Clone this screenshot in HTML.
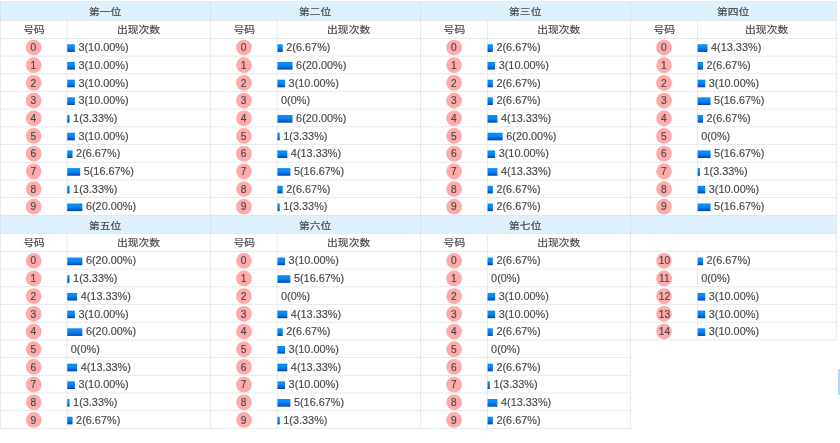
<!DOCTYPE html>
<html lang="zh"><head><meta charset="utf-8"><title>号码出现次数</title><style>html,body{margin:0;padding:0;background:#fff;}
body{width:840px;height:443px;overflow:hidden;}
svg{display:block;}
text{font-family:"Liberation Sans","Noto Sans CJK SC",sans-serif;font-size:10.6px;fill:#484848;}
.t{text-anchor:middle;}
.k{font-size:10.8px;stroke:#484848;stroke-width:0.2px;}
.n{font-size:10.2px;stroke:#484848;stroke-width:0.15px;}
.d{font-size:10.9px;stroke:#484848;stroke-width:0.15px;}
</style></head><body>
<svg width="840" height="443" viewBox="0 0 840 443">
<defs><linearGradient id="g" x1="0" y1="0" x2="0" y2="1"><stop offset="0" stop-color="#0a80ea"/><stop offset="0.22" stop-color="#0592fb"/><stop offset="0.5" stop-color="#0781ee"/><stop offset="0.8" stop-color="#0560cc"/><stop offset="1" stop-color="#003fa4"/></linearGradient></defs>
<g><rect x="0.05" y="1.60" width="836.65" height="18.95" fill="#dff1fc"/><rect x="0.05" y="215.30" width="836.65" height="18.20" fill="#dff1fc"/></g>
<g><rect x="0.45" y="1.20" width="835.85" height="0.8" fill="#dbe9f3"/><rect x="0.45" y="20.15" width="209.95" height="0.8" fill="#dfe6ec"/><rect x="0.45" y="38.00" width="209.95" height="0.8" fill="#dfe6ec"/><rect x="0.45" y="55.69" width="209.95" height="0.8" fill="#dfe6ec"/><rect x="0.45" y="73.38" width="209.95" height="0.8" fill="#dfe6ec"/><rect x="0.45" y="91.07" width="209.95" height="0.8" fill="#dfe6ec"/><rect x="0.45" y="108.76" width="209.95" height="0.8" fill="#dfe6ec"/><rect x="0.45" y="126.45" width="209.95" height="0.8" fill="#dfe6ec"/><rect x="0.45" y="144.14" width="209.95" height="0.8" fill="#dfe6ec"/><rect x="0.45" y="161.83" width="209.95" height="0.8" fill="#dfe6ec"/><rect x="0.45" y="179.52" width="209.95" height="0.8" fill="#dfe6ec"/><rect x="0.45" y="197.21" width="209.95" height="0.8" fill="#dfe6ec"/><rect x="0.45" y="214.90" width="209.95" height="0.8" fill="#dfe6ec"/><rect x="0.05" y="1.60" width="0.8" height="18.95" fill="#d2e4f0"/><rect x="0.05" y="20.55" width="0.8" height="194.75" fill="#dfe6ec"/><rect x="66.60" y="20.55" width="0.8" height="194.75" fill="#dfe6ec"/><rect x="210.40" y="20.15" width="210.10" height="0.8" fill="#dfe6ec"/><rect x="210.40" y="38.00" width="210.10" height="0.8" fill="#dfe6ec"/><rect x="210.40" y="55.69" width="210.10" height="0.8" fill="#dfe6ec"/><rect x="210.40" y="73.38" width="210.10" height="0.8" fill="#dfe6ec"/><rect x="210.40" y="91.07" width="210.10" height="0.8" fill="#dfe6ec"/><rect x="210.40" y="108.76" width="210.10" height="0.8" fill="#dfe6ec"/><rect x="210.40" y="126.45" width="210.10" height="0.8" fill="#dfe6ec"/><rect x="210.40" y="144.14" width="210.10" height="0.8" fill="#dfe6ec"/><rect x="210.40" y="161.83" width="210.10" height="0.8" fill="#dfe6ec"/><rect x="210.40" y="179.52" width="210.10" height="0.8" fill="#dfe6ec"/><rect x="210.40" y="197.21" width="210.10" height="0.8" fill="#dfe6ec"/><rect x="210.40" y="214.90" width="210.10" height="0.8" fill="#dfe6ec"/><rect x="210.00" y="1.60" width="0.8" height="18.95" fill="#d2e4f0"/><rect x="210.00" y="20.55" width="0.8" height="194.75" fill="#dfe6ec"/><rect x="276.80" y="20.55" width="0.8" height="194.75" fill="#dfe6ec"/><rect x="420.50" y="20.15" width="210.15" height="0.8" fill="#dfe6ec"/><rect x="420.50" y="38.00" width="210.15" height="0.8" fill="#dfe6ec"/><rect x="420.50" y="55.69" width="210.15" height="0.8" fill="#dfe6ec"/><rect x="420.50" y="73.38" width="210.15" height="0.8" fill="#dfe6ec"/><rect x="420.50" y="91.07" width="210.15" height="0.8" fill="#dfe6ec"/><rect x="420.50" y="108.76" width="210.15" height="0.8" fill="#dfe6ec"/><rect x="420.50" y="126.45" width="210.15" height="0.8" fill="#dfe6ec"/><rect x="420.50" y="144.14" width="210.15" height="0.8" fill="#dfe6ec"/><rect x="420.50" y="161.83" width="210.15" height="0.8" fill="#dfe6ec"/><rect x="420.50" y="179.52" width="210.15" height="0.8" fill="#dfe6ec"/><rect x="420.50" y="197.21" width="210.15" height="0.8" fill="#dfe6ec"/><rect x="420.50" y="214.90" width="210.15" height="0.8" fill="#dfe6ec"/><rect x="420.10" y="1.60" width="0.8" height="18.95" fill="#d2e4f0"/><rect x="420.10" y="20.55" width="0.8" height="194.75" fill="#dfe6ec"/><rect x="486.90" y="20.55" width="0.8" height="194.75" fill="#dfe6ec"/><rect x="630.65" y="20.15" width="205.65" height="0.8" fill="#dfe6ec"/><rect x="630.65" y="38.00" width="205.65" height="0.8" fill="#dfe6ec"/><rect x="630.65" y="55.69" width="205.65" height="0.8" fill="#dfe6ec"/><rect x="630.65" y="73.38" width="205.65" height="0.8" fill="#dfe6ec"/><rect x="630.65" y="91.07" width="205.65" height="0.8" fill="#dfe6ec"/><rect x="630.65" y="108.76" width="205.65" height="0.8" fill="#dfe6ec"/><rect x="630.65" y="126.45" width="205.65" height="0.8" fill="#dfe6ec"/><rect x="630.65" y="144.14" width="205.65" height="0.8" fill="#dfe6ec"/><rect x="630.65" y="161.83" width="205.65" height="0.8" fill="#dfe6ec"/><rect x="630.65" y="179.52" width="205.65" height="0.8" fill="#dfe6ec"/><rect x="630.65" y="197.21" width="205.65" height="0.8" fill="#dfe6ec"/><rect x="630.65" y="214.90" width="205.65" height="0.8" fill="#dfe6ec"/><rect x="630.25" y="1.60" width="0.8" height="18.95" fill="#d2e4f0"/><rect x="630.25" y="20.55" width="0.8" height="194.75" fill="#dfe6ec"/><rect x="697.00" y="20.55" width="0.8" height="194.75" fill="#dfe6ec"/><rect x="0.45" y="214.90" width="835.85" height="0.8" fill="#dbe9f3"/><rect x="0.45" y="233.10" width="209.95" height="0.8" fill="#dfe6ec"/><rect x="0.45" y="251.05" width="209.95" height="0.8" fill="#dfe6ec"/><rect x="0.45" y="268.74" width="209.95" height="0.8" fill="#dfe6ec"/><rect x="0.45" y="286.43" width="209.95" height="0.8" fill="#dfe6ec"/><rect x="0.45" y="304.12" width="209.95" height="0.8" fill="#dfe6ec"/><rect x="0.45" y="321.81" width="209.95" height="0.8" fill="#dfe6ec"/><rect x="0.45" y="339.50" width="209.95" height="0.8" fill="#dfe6ec"/><rect x="0.45" y="357.19" width="209.95" height="0.8" fill="#dfe6ec"/><rect x="0.45" y="374.88" width="209.95" height="0.8" fill="#dfe6ec"/><rect x="0.45" y="392.57" width="209.95" height="0.8" fill="#dfe6ec"/><rect x="0.45" y="410.26" width="209.95" height="0.8" fill="#dfe6ec"/><rect x="0.45" y="427.95" width="209.95" height="0.8" fill="#dfe6ec"/><rect x="0.05" y="215.30" width="0.8" height="18.20" fill="#d2e4f0"/><rect x="0.05" y="233.50" width="0.8" height="194.85" fill="#dfe6ec"/><rect x="66.60" y="233.50" width="0.8" height="194.85" fill="#dfe6ec"/><rect x="210.40" y="233.10" width="210.10" height="0.8" fill="#dfe6ec"/><rect x="210.40" y="251.05" width="210.10" height="0.8" fill="#dfe6ec"/><rect x="210.40" y="268.74" width="210.10" height="0.8" fill="#dfe6ec"/><rect x="210.40" y="286.43" width="210.10" height="0.8" fill="#dfe6ec"/><rect x="210.40" y="304.12" width="210.10" height="0.8" fill="#dfe6ec"/><rect x="210.40" y="321.81" width="210.10" height="0.8" fill="#dfe6ec"/><rect x="210.40" y="339.50" width="210.10" height="0.8" fill="#dfe6ec"/><rect x="210.40" y="357.19" width="210.10" height="0.8" fill="#dfe6ec"/><rect x="210.40" y="374.88" width="210.10" height="0.8" fill="#dfe6ec"/><rect x="210.40" y="392.57" width="210.10" height="0.8" fill="#dfe6ec"/><rect x="210.40" y="410.26" width="210.10" height="0.8" fill="#dfe6ec"/><rect x="210.40" y="427.95" width="210.10" height="0.8" fill="#dfe6ec"/><rect x="210.00" y="215.30" width="0.8" height="18.20" fill="#d2e4f0"/><rect x="210.00" y="233.50" width="0.8" height="194.85" fill="#dfe6ec"/><rect x="276.80" y="233.50" width="0.8" height="194.85" fill="#dfe6ec"/><rect x="420.50" y="233.10" width="210.15" height="0.8" fill="#dfe6ec"/><rect x="420.50" y="251.05" width="210.15" height="0.8" fill="#dfe6ec"/><rect x="420.50" y="268.74" width="210.15" height="0.8" fill="#dfe6ec"/><rect x="420.50" y="286.43" width="210.15" height="0.8" fill="#dfe6ec"/><rect x="420.50" y="304.12" width="210.15" height="0.8" fill="#dfe6ec"/><rect x="420.50" y="321.81" width="210.15" height="0.8" fill="#dfe6ec"/><rect x="420.50" y="339.50" width="210.15" height="0.8" fill="#dfe6ec"/><rect x="420.50" y="357.19" width="210.15" height="0.8" fill="#dfe6ec"/><rect x="420.50" y="374.88" width="210.15" height="0.8" fill="#dfe6ec"/><rect x="420.50" y="392.57" width="210.15" height="0.8" fill="#dfe6ec"/><rect x="420.50" y="410.26" width="210.15" height="0.8" fill="#dfe6ec"/><rect x="420.50" y="427.95" width="210.15" height="0.8" fill="#dfe6ec"/><rect x="420.10" y="215.30" width="0.8" height="18.20" fill="#d2e4f0"/><rect x="420.10" y="233.50" width="0.8" height="194.85" fill="#dfe6ec"/><rect x="486.90" y="233.50" width="0.8" height="194.85" fill="#dfe6ec"/><rect x="630.65" y="233.10" width="205.65" height="0.8" fill="#dfe6ec"/><rect x="630.65" y="251.05" width="205.65" height="0.8" fill="#dfe6ec"/><rect x="630.65" y="268.74" width="205.65" height="0.8" fill="#dfe6ec"/><rect x="630.65" y="286.43" width="205.65" height="0.8" fill="#dfe6ec"/><rect x="630.65" y="304.12" width="205.65" height="0.8" fill="#dfe6ec"/><rect x="630.65" y="321.81" width="205.65" height="0.8" fill="#dfe6ec"/><rect x="630.65" y="339.50" width="205.65" height="0.8" fill="#dfe6ec"/><rect x="630.25" y="215.30" width="0.8" height="18.20" fill="#d2e4f0"/><rect x="630.25" y="233.50" width="0.8" height="106.40" fill="#dfe6ec"/><rect x="697.00" y="251.45" width="0.8" height="88.45" fill="#dfe6ec"/><rect x="835.90" y="1.60" width="0.8" height="338.30" fill="#dfe6ec"/><rect x="630.25" y="339.90" width="0.8" height="88.45" fill="#dfe6ec"/></g>
<rect x="837.9" y="369" width="2.1" height="26" fill="#b9d5f8"/>
<g>
<circle cx="33.70" cy="47.50" r="7.85" fill="#ffabab"/>
<text class="t n" x="33.40" y="51.20">0</text>
<rect x="67.25" y="44.30" width="7.60" height="7.6" fill="url(#g)"/>
<circle cx="33.70" cy="65.19" r="7.85" fill="#ffabab"/>
<text class="t n" x="33.40" y="68.89">1</text>
<rect x="67.25" y="61.99" width="7.60" height="7.6" fill="url(#g)"/>
<circle cx="33.70" cy="82.88" r="7.85" fill="#ffabab"/>
<text class="t n" x="33.40" y="86.58">2</text>
<rect x="67.25" y="79.68" width="7.60" height="7.6" fill="url(#g)"/>
<circle cx="33.70" cy="100.57" r="7.85" fill="#ffabab"/>
<text class="t n" x="33.40" y="104.27">3</text>
<rect x="67.25" y="97.37" width="7.60" height="7.6" fill="url(#g)"/>
<circle cx="33.70" cy="118.26" r="7.85" fill="#ffabab"/>
<text class="t n" x="33.40" y="121.96">4</text>
<rect x="67.25" y="115.06" width="2.30" height="7.6" fill="url(#g)"/>
<circle cx="33.70" cy="135.95" r="7.85" fill="#ffabab"/>
<text class="t n" x="33.40" y="139.65">5</text>
<rect x="67.25" y="132.75" width="7.60" height="7.6" fill="url(#g)"/>
<circle cx="33.70" cy="153.64" r="7.85" fill="#ffabab"/>
<text class="t n" x="33.40" y="157.34">6</text>
<rect x="67.25" y="150.44" width="5.30" height="7.6" fill="url(#g)"/>
<circle cx="33.70" cy="171.33" r="7.85" fill="#ffabab"/>
<text class="t n" x="33.40" y="175.03">7</text>
<rect x="67.25" y="168.13" width="12.90" height="7.6" fill="url(#g)"/>
<circle cx="33.70" cy="189.02" r="7.85" fill="#ffabab"/>
<text class="t n" x="33.40" y="192.72">8</text>
<rect x="67.25" y="185.82" width="2.30" height="7.6" fill="url(#g)"/>
<circle cx="33.70" cy="206.71" r="7.85" fill="#ffabab"/>
<text class="t n" x="33.40" y="210.41">9</text>
<rect x="67.25" y="203.51" width="15.10" height="7.6" fill="url(#g)"/>
<circle cx="243.95" cy="47.50" r="7.85" fill="#ffabab"/>
<text class="t n" x="243.65" y="51.20">0</text>
<rect x="277.45" y="44.30" width="5.30" height="7.6" fill="url(#g)"/>
<circle cx="243.95" cy="65.19" r="7.85" fill="#ffabab"/>
<text class="t n" x="243.65" y="68.89">1</text>
<rect x="277.45" y="61.99" width="15.10" height="7.6" fill="url(#g)"/>
<circle cx="243.95" cy="82.88" r="7.85" fill="#ffabab"/>
<text class="t n" x="243.65" y="86.58">2</text>
<rect x="277.45" y="79.68" width="7.60" height="7.6" fill="url(#g)"/>
<circle cx="243.95" cy="100.57" r="7.85" fill="#ffabab"/>
<text class="t n" x="243.65" y="104.27">3</text>
<circle cx="243.95" cy="118.26" r="7.85" fill="#ffabab"/>
<text class="t n" x="243.65" y="121.96">4</text>
<rect x="277.45" y="115.06" width="15.10" height="7.6" fill="url(#g)"/>
<circle cx="243.95" cy="135.95" r="7.85" fill="#ffabab"/>
<text class="t n" x="243.65" y="139.65">5</text>
<rect x="277.45" y="132.75" width="2.30" height="7.6" fill="url(#g)"/>
<circle cx="243.95" cy="153.64" r="7.85" fill="#ffabab"/>
<text class="t n" x="243.65" y="157.34">6</text>
<rect x="277.45" y="150.44" width="9.85" height="7.6" fill="url(#g)"/>
<circle cx="243.95" cy="171.33" r="7.85" fill="#ffabab"/>
<text class="t n" x="243.65" y="175.03">7</text>
<rect x="277.45" y="168.13" width="12.90" height="7.6" fill="url(#g)"/>
<circle cx="243.95" cy="189.02" r="7.85" fill="#ffabab"/>
<text class="t n" x="243.65" y="192.72">8</text>
<rect x="277.45" y="185.82" width="5.30" height="7.6" fill="url(#g)"/>
<circle cx="243.95" cy="206.71" r="7.85" fill="#ffabab"/>
<text class="t n" x="243.65" y="210.41">9</text>
<rect x="277.45" y="203.51" width="2.30" height="7.6" fill="url(#g)"/>
<circle cx="454.10" cy="47.50" r="7.85" fill="#ffabab"/>
<text class="t n" x="453.80" y="51.20">0</text>
<rect x="487.55" y="44.30" width="5.30" height="7.6" fill="url(#g)"/>
<circle cx="454.10" cy="65.19" r="7.85" fill="#ffabab"/>
<text class="t n" x="453.80" y="68.89">1</text>
<rect x="487.55" y="61.99" width="7.60" height="7.6" fill="url(#g)"/>
<circle cx="454.10" cy="82.88" r="7.85" fill="#ffabab"/>
<text class="t n" x="453.80" y="86.58">2</text>
<rect x="487.55" y="79.68" width="5.30" height="7.6" fill="url(#g)"/>
<circle cx="454.10" cy="100.57" r="7.85" fill="#ffabab"/>
<text class="t n" x="453.80" y="104.27">3</text>
<rect x="487.55" y="97.37" width="5.30" height="7.6" fill="url(#g)"/>
<circle cx="454.10" cy="118.26" r="7.85" fill="#ffabab"/>
<text class="t n" x="453.80" y="121.96">4</text>
<rect x="487.55" y="115.06" width="9.85" height="7.6" fill="url(#g)"/>
<circle cx="454.10" cy="135.95" r="7.85" fill="#ffabab"/>
<text class="t n" x="453.80" y="139.65">5</text>
<rect x="487.55" y="132.75" width="15.10" height="7.6" fill="url(#g)"/>
<circle cx="454.10" cy="153.64" r="7.85" fill="#ffabab"/>
<text class="t n" x="453.80" y="157.34">6</text>
<rect x="487.55" y="150.44" width="7.60" height="7.6" fill="url(#g)"/>
<circle cx="454.10" cy="171.33" r="7.85" fill="#ffabab"/>
<text class="t n" x="453.80" y="175.03">7</text>
<rect x="487.55" y="168.13" width="9.85" height="7.6" fill="url(#g)"/>
<circle cx="454.10" cy="189.02" r="7.85" fill="#ffabab"/>
<text class="t n" x="453.80" y="192.72">8</text>
<rect x="487.55" y="185.82" width="5.30" height="7.6" fill="url(#g)"/>
<circle cx="454.10" cy="206.71" r="7.85" fill="#ffabab"/>
<text class="t n" x="453.80" y="210.41">9</text>
<rect x="487.55" y="203.51" width="5.30" height="7.6" fill="url(#g)"/>
<circle cx="664.05" cy="47.50" r="7.85" fill="#ffabab"/>
<text class="t n" x="663.75" y="51.20">0</text>
<rect x="697.65" y="44.30" width="9.85" height="7.6" fill="url(#g)"/>
<circle cx="664.05" cy="65.19" r="7.85" fill="#ffabab"/>
<text class="t n" x="663.75" y="68.89">1</text>
<rect x="697.65" y="61.99" width="5.30" height="7.6" fill="url(#g)"/>
<circle cx="664.05" cy="82.88" r="7.85" fill="#ffabab"/>
<text class="t n" x="663.75" y="86.58">2</text>
<rect x="697.65" y="79.68" width="7.60" height="7.6" fill="url(#g)"/>
<circle cx="664.05" cy="100.57" r="7.85" fill="#ffabab"/>
<text class="t n" x="663.75" y="104.27">3</text>
<rect x="697.65" y="97.37" width="12.90" height="7.6" fill="url(#g)"/>
<circle cx="664.05" cy="118.26" r="7.85" fill="#ffabab"/>
<text class="t n" x="663.75" y="121.96">4</text>
<rect x="697.65" y="115.06" width="5.30" height="7.6" fill="url(#g)"/>
<circle cx="664.05" cy="135.95" r="7.85" fill="#ffabab"/>
<text class="t n" x="663.75" y="139.65">5</text>
<circle cx="664.05" cy="153.64" r="7.85" fill="#ffabab"/>
<text class="t n" x="663.75" y="157.34">6</text>
<rect x="697.65" y="150.44" width="12.90" height="7.6" fill="url(#g)"/>
<circle cx="664.05" cy="171.33" r="7.85" fill="#ffabab"/>
<text class="t n" x="663.75" y="175.03">7</text>
<rect x="697.65" y="168.13" width="2.30" height="7.6" fill="url(#g)"/>
<circle cx="664.05" cy="189.02" r="7.85" fill="#ffabab"/>
<text class="t n" x="663.75" y="192.72">8</text>
<rect x="697.65" y="185.82" width="7.60" height="7.6" fill="url(#g)"/>
<circle cx="664.05" cy="206.71" r="7.85" fill="#ffabab"/>
<text class="t n" x="663.75" y="210.41">9</text>
<rect x="697.65" y="203.51" width="12.90" height="7.6" fill="url(#g)"/>
<circle cx="33.70" cy="260.75" r="7.85" fill="#ffabab"/>
<text class="t n" x="33.40" y="264.45">0</text>
<rect x="67.25" y="257.55" width="15.10" height="7.6" fill="url(#g)"/>
<circle cx="33.70" cy="278.44" r="7.85" fill="#ffabab"/>
<text class="t n" x="33.40" y="282.14">1</text>
<rect x="67.25" y="275.24" width="2.30" height="7.6" fill="url(#g)"/>
<circle cx="33.70" cy="296.13" r="7.85" fill="#ffabab"/>
<text class="t n" x="33.40" y="299.83">2</text>
<rect x="67.25" y="292.93" width="9.85" height="7.6" fill="url(#g)"/>
<circle cx="33.70" cy="313.82" r="7.85" fill="#ffabab"/>
<text class="t n" x="33.40" y="317.52">3</text>
<rect x="67.25" y="310.62" width="7.60" height="7.6" fill="url(#g)"/>
<circle cx="33.70" cy="331.51" r="7.85" fill="#ffabab"/>
<text class="t n" x="33.40" y="335.21">4</text>
<rect x="67.25" y="328.31" width="15.10" height="7.6" fill="url(#g)"/>
<circle cx="33.70" cy="349.20" r="7.85" fill="#ffabab"/>
<text class="t n" x="33.40" y="352.90">5</text>
<circle cx="33.70" cy="366.89" r="7.85" fill="#ffabab"/>
<text class="t n" x="33.40" y="370.59">6</text>
<rect x="67.25" y="363.69" width="9.85" height="7.6" fill="url(#g)"/>
<circle cx="33.70" cy="384.58" r="7.85" fill="#ffabab"/>
<text class="t n" x="33.40" y="388.28">7</text>
<rect x="67.25" y="381.38" width="7.60" height="7.6" fill="url(#g)"/>
<circle cx="33.70" cy="402.27" r="7.85" fill="#ffabab"/>
<text class="t n" x="33.40" y="405.97">8</text>
<rect x="67.25" y="399.07" width="2.30" height="7.6" fill="url(#g)"/>
<circle cx="33.70" cy="419.96" r="7.85" fill="#ffabab"/>
<text class="t n" x="33.40" y="423.66">9</text>
<rect x="67.25" y="416.76" width="5.30" height="7.6" fill="url(#g)"/>
<circle cx="243.95" cy="260.75" r="7.85" fill="#ffabab"/>
<text class="t n" x="243.65" y="264.45">0</text>
<rect x="277.45" y="257.55" width="7.60" height="7.6" fill="url(#g)"/>
<circle cx="243.95" cy="278.44" r="7.85" fill="#ffabab"/>
<text class="t n" x="243.65" y="282.14">1</text>
<rect x="277.45" y="275.24" width="12.90" height="7.6" fill="url(#g)"/>
<circle cx="243.95" cy="296.13" r="7.85" fill="#ffabab"/>
<text class="t n" x="243.65" y="299.83">2</text>
<circle cx="243.95" cy="313.82" r="7.85" fill="#ffabab"/>
<text class="t n" x="243.65" y="317.52">3</text>
<rect x="277.45" y="310.62" width="9.85" height="7.6" fill="url(#g)"/>
<circle cx="243.95" cy="331.51" r="7.85" fill="#ffabab"/>
<text class="t n" x="243.65" y="335.21">4</text>
<rect x="277.45" y="328.31" width="5.30" height="7.6" fill="url(#g)"/>
<circle cx="243.95" cy="349.20" r="7.85" fill="#ffabab"/>
<text class="t n" x="243.65" y="352.90">5</text>
<rect x="277.45" y="346.00" width="7.60" height="7.6" fill="url(#g)"/>
<circle cx="243.95" cy="366.89" r="7.85" fill="#ffabab"/>
<text class="t n" x="243.65" y="370.59">6</text>
<rect x="277.45" y="363.69" width="9.85" height="7.6" fill="url(#g)"/>
<circle cx="243.95" cy="384.58" r="7.85" fill="#ffabab"/>
<text class="t n" x="243.65" y="388.28">7</text>
<rect x="277.45" y="381.38" width="7.60" height="7.6" fill="url(#g)"/>
<circle cx="243.95" cy="402.27" r="7.85" fill="#ffabab"/>
<text class="t n" x="243.65" y="405.97">8</text>
<rect x="277.45" y="399.07" width="12.90" height="7.6" fill="url(#g)"/>
<circle cx="243.95" cy="419.96" r="7.85" fill="#ffabab"/>
<text class="t n" x="243.65" y="423.66">9</text>
<rect x="277.45" y="416.76" width="2.30" height="7.6" fill="url(#g)"/>
<circle cx="454.10" cy="260.75" r="7.85" fill="#ffabab"/>
<text class="t n" x="453.80" y="264.45">0</text>
<rect x="487.55" y="257.55" width="5.30" height="7.6" fill="url(#g)"/>
<circle cx="454.10" cy="278.44" r="7.85" fill="#ffabab"/>
<text class="t n" x="453.80" y="282.14">1</text>
<circle cx="454.10" cy="296.13" r="7.85" fill="#ffabab"/>
<text class="t n" x="453.80" y="299.83">2</text>
<rect x="487.55" y="292.93" width="7.60" height="7.6" fill="url(#g)"/>
<circle cx="454.10" cy="313.82" r="7.85" fill="#ffabab"/>
<text class="t n" x="453.80" y="317.52">3</text>
<rect x="487.55" y="310.62" width="7.60" height="7.6" fill="url(#g)"/>
<circle cx="454.10" cy="331.51" r="7.85" fill="#ffabab"/>
<text class="t n" x="453.80" y="335.21">4</text>
<rect x="487.55" y="328.31" width="5.30" height="7.6" fill="url(#g)"/>
<circle cx="454.10" cy="349.20" r="7.85" fill="#ffabab"/>
<text class="t n" x="453.80" y="352.90">5</text>
<circle cx="454.10" cy="366.89" r="7.85" fill="#ffabab"/>
<text class="t n" x="453.80" y="370.59">6</text>
<rect x="487.55" y="363.69" width="5.30" height="7.6" fill="url(#g)"/>
<circle cx="454.10" cy="384.58" r="7.85" fill="#ffabab"/>
<text class="t n" x="453.80" y="388.28">7</text>
<rect x="487.55" y="381.38" width="2.30" height="7.6" fill="url(#g)"/>
<circle cx="454.10" cy="402.27" r="7.85" fill="#ffabab"/>
<text class="t n" x="453.80" y="405.97">8</text>
<rect x="487.55" y="399.07" width="9.85" height="7.6" fill="url(#g)"/>
<circle cx="454.10" cy="419.96" r="7.85" fill="#ffabab"/>
<text class="t n" x="453.80" y="423.66">9</text>
<rect x="487.55" y="416.76" width="5.30" height="7.6" fill="url(#g)"/>
<circle cx="664.05" cy="260.75" r="7.85" fill="#ffabab"/>
<text class="t n" x="664.40" y="264.45">10</text>
<rect x="697.65" y="257.55" width="5.30" height="7.6" fill="url(#g)"/>
<circle cx="664.05" cy="278.44" r="7.85" fill="#ffabab"/>
<text class="t n" x="664.40" y="282.14">11</text>
<circle cx="664.05" cy="296.13" r="7.85" fill="#ffabab"/>
<text class="t n" x="664.40" y="299.83">12</text>
<rect x="697.65" y="292.93" width="7.60" height="7.6" fill="url(#g)"/>
<circle cx="664.05" cy="313.82" r="7.85" fill="#ffabab"/>
<text class="t n" x="664.40" y="317.52">13</text>
<rect x="697.65" y="310.62" width="7.60" height="7.6" fill="url(#g)"/>
<circle cx="664.05" cy="331.51" r="7.85" fill="#ffabab"/>
<text class="t n" x="664.40" y="335.21">14</text>
<rect x="697.65" y="328.31" width="7.60" height="7.6" fill="url(#g)"/>
</g>
<g transform="scale(1 0.93)">
<text class="d" x="78.40" y="55.11">3(10.00%)</text>
<text class="d" x="78.40" y="74.13">3(10.00%)</text>
<text class="d" x="78.40" y="93.15">3(10.00%)</text>
<text class="d" x="78.40" y="112.17">3(10.00%)</text>
<text class="d" x="73.10" y="131.19">1(3.33%)</text>
<text class="d" x="78.40" y="150.22">3(10.00%)</text>
<text class="d" x="76.10" y="169.24">2(6.67%)</text>
<text class="d" x="83.70" y="188.26">5(16.67%)</text>
<text class="d" x="73.10" y="207.28">1(3.33%)</text>
<text class="d" x="85.90" y="226.30">6(20.00%)</text>
<text class="d" x="286.30" y="55.11">2(6.67%)</text>
<text class="d" x="296.10" y="74.13">6(20.00%)</text>
<text class="d" x="288.60" y="93.15">3(10.00%)</text>
<text class="d" x="281.00" y="112.17">0(0%)</text>
<text class="d" x="296.10" y="131.19">6(20.00%)</text>
<text class="d" x="283.30" y="150.22">1(3.33%)</text>
<text class="d" x="290.85" y="169.24">4(13.33%)</text>
<text class="d" x="293.90" y="188.26">5(16.67%)</text>
<text class="d" x="286.30" y="207.28">2(6.67%)</text>
<text class="d" x="283.30" y="226.30">1(3.33%)</text>
<text class="d" x="496.40" y="55.11">2(6.67%)</text>
<text class="d" x="498.70" y="74.13">3(10.00%)</text>
<text class="d" x="496.40" y="93.15">2(6.67%)</text>
<text class="d" x="496.40" y="112.17">2(6.67%)</text>
<text class="d" x="500.95" y="131.19">4(13.33%)</text>
<text class="d" x="506.20" y="150.22">6(20.00%)</text>
<text class="d" x="498.70" y="169.24">3(10.00%)</text>
<text class="d" x="500.95" y="188.26">4(13.33%)</text>
<text class="d" x="496.40" y="207.28">2(6.67%)</text>
<text class="d" x="496.40" y="226.30">2(6.67%)</text>
<text class="d" x="711.05" y="55.11">4(13.33%)</text>
<text class="d" x="706.50" y="74.13">2(6.67%)</text>
<text class="d" x="708.80" y="93.15">3(10.00%)</text>
<text class="d" x="714.10" y="112.17">5(16.67%)</text>
<text class="d" x="706.50" y="131.19">2(6.67%)</text>
<text class="d" x="701.20" y="150.22">0(0%)</text>
<text class="d" x="714.10" y="169.24">5(16.67%)</text>
<text class="d" x="703.50" y="188.26">1(3.33%)</text>
<text class="d" x="708.80" y="207.28">3(10.00%)</text>
<text class="d" x="714.10" y="226.30">5(16.67%)</text>
<text class="d" x="85.90" y="284.41">6(20.00%)</text>
<text class="d" x="73.10" y="303.43">1(3.33%)</text>
<text class="d" x="80.65" y="322.45">4(13.33%)</text>
<text class="d" x="78.40" y="341.47">3(10.00%)</text>
<text class="d" x="85.90" y="360.49">6(20.00%)</text>
<text class="d" x="70.80" y="379.52">0(0%)</text>
<text class="d" x="80.65" y="398.54">4(13.33%)</text>
<text class="d" x="78.40" y="417.56">3(10.00%)</text>
<text class="d" x="73.10" y="436.58">1(3.33%)</text>
<text class="d" x="76.10" y="455.60">2(6.67%)</text>
<text class="d" x="288.60" y="284.41">3(10.00%)</text>
<text class="d" x="293.90" y="303.43">5(16.67%)</text>
<text class="d" x="281.00" y="322.45">0(0%)</text>
<text class="d" x="290.85" y="341.47">4(13.33%)</text>
<text class="d" x="286.30" y="360.49">2(6.67%)</text>
<text class="d" x="288.60" y="379.52">3(10.00%)</text>
<text class="d" x="290.85" y="398.54">4(13.33%)</text>
<text class="d" x="288.60" y="417.56">3(10.00%)</text>
<text class="d" x="293.90" y="436.58">5(16.67%)</text>
<text class="d" x="283.30" y="455.60">1(3.33%)</text>
<text class="d" x="496.40" y="284.41">2(6.67%)</text>
<text class="d" x="491.10" y="303.43">0(0%)</text>
<text class="d" x="498.70" y="322.45">3(10.00%)</text>
<text class="d" x="498.70" y="341.47">3(10.00%)</text>
<text class="d" x="496.40" y="360.49">2(6.67%)</text>
<text class="d" x="491.10" y="379.52">0(0%)</text>
<text class="d" x="496.40" y="398.54">2(6.67%)</text>
<text class="d" x="493.40" y="417.56">1(3.33%)</text>
<text class="d" x="500.95" y="436.58">4(13.33%)</text>
<text class="d" x="496.40" y="455.60">2(6.67%)</text>
<text class="d" x="706.50" y="284.41">2(6.67%)</text>
<text class="d" x="701.20" y="303.43">0(0%)</text>
<text class="d" x="708.80" y="322.45">3(10.00%)</text>
<text class="d" x="708.80" y="341.47">3(10.00%)</text>
<text class="d" x="708.80" y="360.49">3(10.00%)</text>
</g>
<g transform="scale(1 0.885)">
<text class="t k" x="105.12" y="17.06">第一位</text>
<text class="t k" x="34.00" y="37.51">号码</text>
<text class="t k" x="138.50" y="37.51">出现次数</text>
<text class="t k" x="315.15" y="17.06">第二位</text>
<text class="t k" x="244.25" y="37.51">号码</text>
<text class="t k" x="348.65" y="37.51">出现次数</text>
<text class="t k" x="525.28" y="17.06">第三位</text>
<text class="t k" x="454.40" y="37.51">号码</text>
<text class="t k" x="558.77" y="37.51">出现次数</text>
<text class="t k" x="733.17" y="17.06">第四位</text>
<text class="t k" x="664.35" y="37.51">号码</text>
<text class="t k" x="766.65" y="37.51">出现次数</text>
<text class="t k" x="105.12" y="258.53">第五位</text>
<text class="t k" x="34.00" y="278.14">号码</text>
<text class="t k" x="138.50" y="278.14">出现次数</text>
<text class="t k" x="315.15" y="258.53">第六位</text>
<text class="t k" x="244.25" y="278.14">号码</text>
<text class="t k" x="348.65" y="278.14">出现次数</text>
<text class="t k" x="525.28" y="258.53">第七位</text>
<text class="t k" x="454.40" y="278.14">号码</text>
<text class="t k" x="558.77" y="278.14">出现次数</text>
</g>
</svg>
</body></html>
